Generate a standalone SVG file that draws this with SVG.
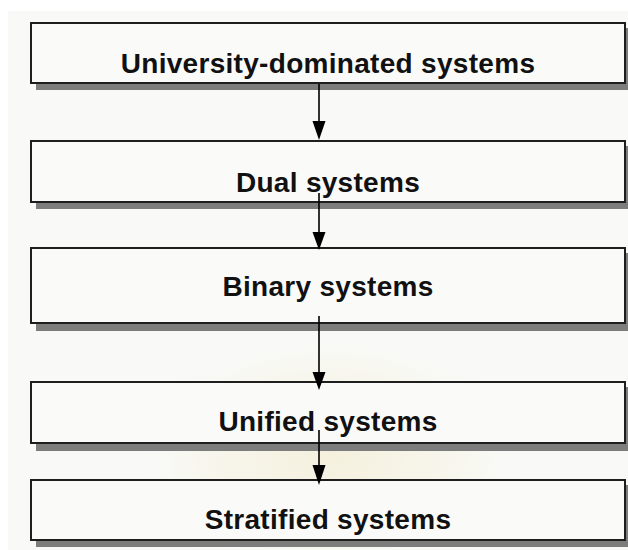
<svg xmlns="http://www.w3.org/2000/svg" width="628" height="550" viewBox="0 0 628 550">
  <style>
    .shadow { fill: #7d7d7d; }
    .box { fill: #fafbf9; stroke: #1e1e1e; stroke-width: 2; }
    .label { font-family: "Liberation Sans", Arial, sans-serif; font-weight: bold; font-size: 28px; letter-spacing: 0.3px; fill: #111; text-anchor: middle; }
    .link { stroke: #000; stroke-width: 1.6; fill: none; }
    .head { fill: #000; }
  </style>
  <defs>
    <radialGradient id="glow" cx="0.5" cy="0.5" r="0.5">
      <stop offset="0" stop-color="#f3ecd2" stop-opacity="0.7"/>
      <stop offset="0.6" stop-color="#f5f0dc" stop-opacity="0.4"/>
      <stop offset="1" stop-color="#f9faf8" stop-opacity="0"/>
    </radialGradient>
  </defs>

  <!-- page -->
  <rect x="0" y="0" width="628" height="550" fill="#ffffff"/>
  <rect x="8" y="11" width="620" height="539" fill="#f9faf8"/>
  <!-- faint emblem in the background -->
  <ellipse cx="330" cy="455" rx="210" ry="135" fill="url(#glow)"/>

  <g id="node-university">
    <rect class="shadow" x="36" y="28" width="595" height="62"/>
    <rect class="box" x="31" y="23" width="594" height="60"/>
    <text class="label" x="328" y="73">University-dominated systems</text>
  </g>

  <g id="node-dual">
    <rect class="shadow" x="36" y="146" width="595" height="63"/>
    <rect class="box" x="31" y="141" width="594" height="61"/>
    <text class="label" x="328" y="192">Dual systems</text>
  </g>

  <g id="node-binary">
    <rect class="shadow" x="36" y="253" width="595" height="78"/>
    <rect class="box" x="31" y="248" width="594" height="75"/>
    <text class="label" x="328" y="296">Binary systems</text>
  </g>

  <g id="node-unified">
    <rect class="shadow" x="36" y="387" width="595" height="64"/>
    <rect class="box" x="31" y="382" width="594" height="61"/>
    <text class="label" x="328" y="431">Unified systems</text>
  </g>

  <g id="node-stratified">
    <rect class="shadow" x="36" y="485" width="595" height="62"/>
    <rect class="box" x="31" y="480" width="594" height="60"/>
    <text class="label" x="328" y="529">Stratified systems</text>
  </g>

  <g id="connectors">
    <line class="link" x1="319" y1="84" x2="319" y2="125"/>
    <path class="head" d="M312.5 121 L325.5 121 L319 140 Z"/>

    <line class="link" x1="319" y1="193" x2="319" y2="236"/>
    <path class="head" d="M312.5 232 L325.5 232 L319 250 Z"/>

    <line class="link" x1="319" y1="316" x2="319" y2="376"/>
    <path class="head" d="M312.5 372 L325.5 372 L319 390 Z"/>

    <line class="link" x1="319" y1="430" x2="319" y2="469"/>
    <path class="head" d="M312.5 465 L325.5 465 L319 485 Z"/>
  </g>
</svg>
